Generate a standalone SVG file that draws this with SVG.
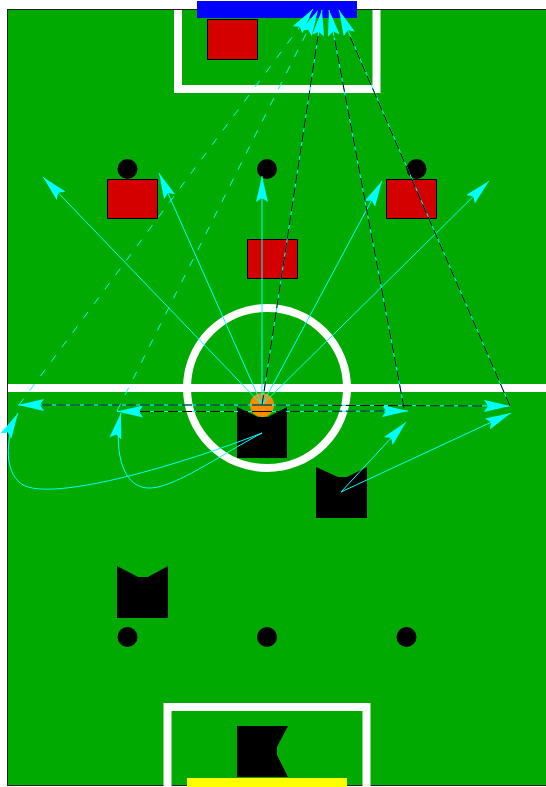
<svg xmlns="http://www.w3.org/2000/svg" width="546" height="787" viewBox="0 0 546 787">
  <defs>
    <style>
      .line{fill:none;stroke:#fff;stroke-width:8}
      .red{fill:#d40000;stroke:#000;stroke-width:1}
      .dot{fill:#000}
      .bot{fill:#000}
      .c{fill:none;stroke:#00ffff;stroke-width:1}
      .cd{fill:none;stroke:#00ffff;stroke-width:1;stroke-dasharray:8 10}
      .kd{fill:none;stroke:#000;stroke-width:1;stroke-dasharray:10 4}
    </style>
    <marker id="ah" viewBox="0 0 26 12" refX="26" refY="6" markerWidth="26" markerHeight="12" markerUnits="userSpaceOnUse" orient="auto">
      <path d="M26,6 L0,0 L4,6 L0,12 Z" fill="#00ffff"/>
    </marker>
  </defs>
  <rect width="546" height="787" fill="#fff"/>
  <g id="field">
    <rect x="7.5" y="9.5" width="545" height="776" fill="#00aa00" stroke="#222" stroke-width="1"/>
    <path class="line" d="M178,10 V89 H376.5 V10"/>
    <path class="line" d="M167.5,786 V707 H366.5 V786"/>
    <line class="line" x1="8" y1="388" x2="546" y2="388"/>
    <circle class="line" cx="267" cy="388" r="80"/>
    <rect id="goal-blue" x="197" y="1" width="160" height="17" fill="#0000ff"/>
    <rect id="goal-yellow" x="187" y="778" width="160" height="9" fill="#ffff00"/>
  </g>
  <g id="marks">
    <circle class="dot" cx="127.5" cy="169" r="10"/>
    <circle class="dot" cx="267" cy="169" r="10"/>
    <circle class="dot" cx="416.5" cy="169" r="10"/>
    <circle class="dot" cx="127.5" cy="637" r="10"/>
    <circle class="dot" cx="267" cy="637" r="10"/>
    <circle class="dot" cx="406.5" cy="637" r="10"/>
  </g>
  <g id="red-keeper"><rect class="red" x="207.5" y="19.5" width="50" height="40"/></g>
  <g id="red-1"><rect class="red" x="107.5" y="179.5" width="50" height="39"/></g>
  <g id="red-2"><rect class="red" x="247.5" y="239.5" width="50" height="39"/></g>
  <g id="red-3"><rect class="red" x="386.5" y="179.5" width="50" height="39"/></g>
  <g id="bot-center"><polygon class="bot" points="237,407 258,417 268,417 287,407 287,458 237,458"/></g>
  <g id="bot-right"><polygon class="bot" points="316,467 338,477 347,477 367,467 367,518 316,518"/></g>
  <g id="bot-left"><polygon class="bot" points="117,566 138,577 148,577 168,566 168,618 117,618"/></g>
  <g id="bot-keeper"><polygon class="bot" points="237,726 288,726 277,747 277,755 288,777 237,777"/></g>
  <g id="ball"><circle cx="262" cy="405" r="12" fill="#ff8c00"/></g>
  <g id="connectors">
    <!-- shots from ball -->
    <line class="c" x1="262" y1="405" x2="43" y2="177" marker-end="url(#ah)"/>
    <line class="c" x1="262" y1="405" x2="159" y2="173" marker-end="url(#ah)"/>
    <line class="c" x1="262" y1="405" x2="262" y2="176" marker-end="url(#ah)"/>
    <line class="c" x1="262" y1="405" x2="382" y2="181" marker-end="url(#ah)"/>
    <line class="c" x1="262" y1="405" x2="489" y2="181" marker-end="url(#ah)"/>
    <!-- passes -->
    <line class="c" x1="262" y1="405" x2="18" y2="405" marker-end="url(#ah)"/>
    <line class="kd" x1="262" y1="405" x2="40" y2="405"/>
    <line class="c" x1="262" y1="411.5" x2="117" y2="411.5" marker-end="url(#ah)"/>
    <line class="kd" x1="262" y1="411.5" x2="140" y2="411.5"/>
    <line class="c" x1="262" y1="411.5" x2="408" y2="411" marker-end="url(#ah)"/>
    <line class="kd" x1="262" y1="411.5" x2="385" y2="411"/>
    <line class="c" x1="262" y1="405" x2="510" y2="406" marker-end="url(#ah)"/>
    <line class="kd" x1="262" y1="405" x2="486" y2="406"/>
    <!-- goal shots -->
    <line class="cd" x1="19" y1="405" x2="313" y2="9" marker-end="url(#ah)"/>
    <line class="cd" x1="117" y1="411" x2="318" y2="10" marker-end="url(#ah)"/>
    <line class="c" x1="262" y1="405" x2="322" y2="10" marker-end="url(#ah)"/>
    <line class="kd" x1="262" y1="405" x2="318" y2="36"/>
    <line class="c" x1="404" y1="408" x2="329" y2="10" marker-end="url(#ah)"/>
    <line class="kd" x1="404" y1="408" x2="334" y2="36"/>
    <line class="c" x1="510" y1="406" x2="339" y2="10" marker-end="url(#ah)"/>
    <line class="kd" x1="510" y1="406" x2="349" y2="34"/>
    <!-- dribbles -->
    <path class="c" d="M262,433 C180,465 60,500 25,486 C4,476 4,440 18,413" marker-end="url(#ah)"/>
    <path class="c" d="M262,433 C220,455 172,490 147,488 C120,486 114,445 121,413" marker-end="url(#ah)"/>
    <line class="c" x1="341" y1="492" x2="406" y2="422" marker-end="url(#ah)"/>
    <line class="c" x1="341" y1="492" x2="511" y2="413" marker-end="url(#ah)"/>
  </g>
</svg>
